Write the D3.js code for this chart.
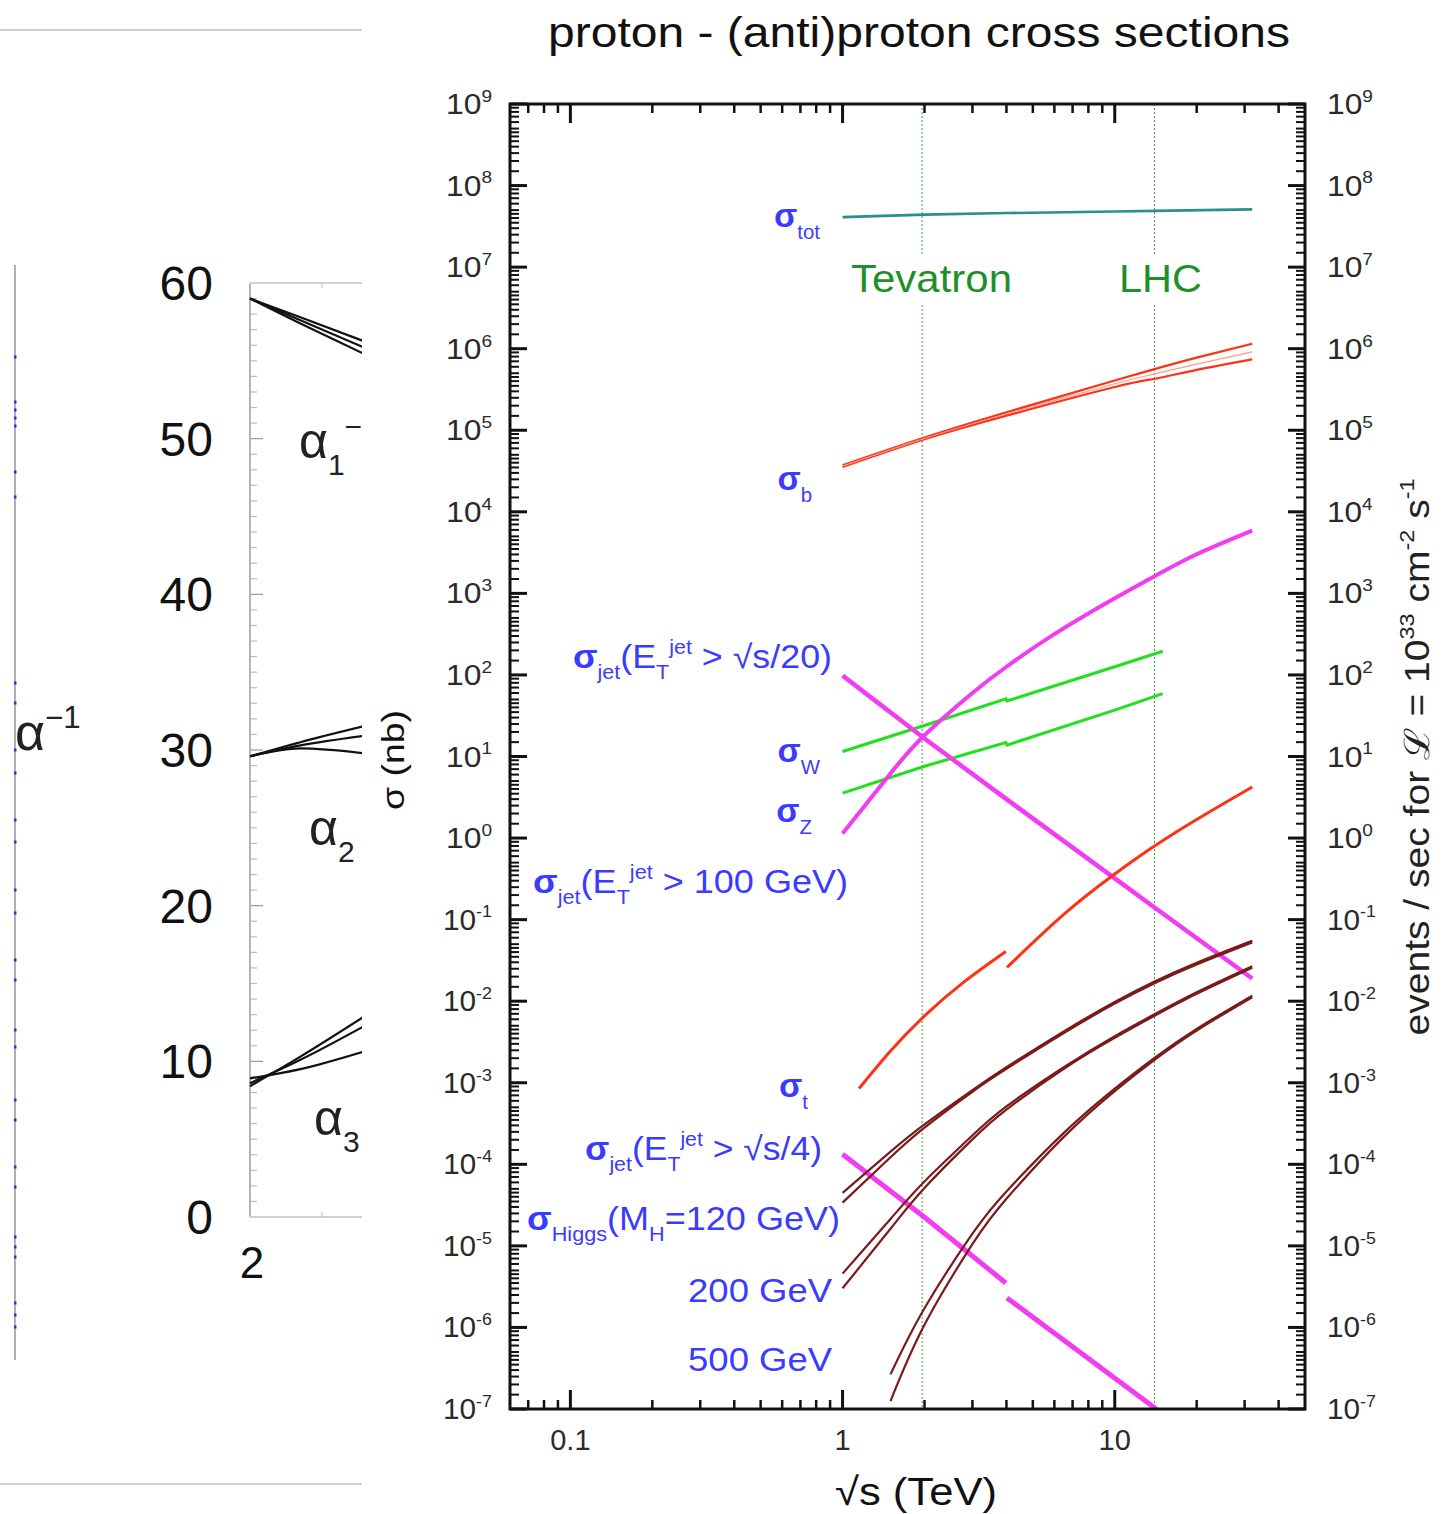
<!DOCTYPE html>
<html>
<head>
<meta charset="utf-8">
<script src="https://cdn.jsdelivr.net/npm/d3@7"></script>
<style>
  body { margin: 0; background: #fff; }
  text { font-family: "Liberation Sans", Arial, sans-serif; white-space: pre; }
</style>
</head>
<body>
<svg id="fig" width="1453" height="1514"></svg>
<script>
// ---------- data: main panel (sqrt(s) in TeV, sigma in nb) ----------
const sigmaExponents = d3.range(-7, 10);
const minorMantissa = [1.5, 2, 2.5, 3, 3.5, 4, 4.5, 5, 6, 7, 8, 9];
const xMajorTicks = [0.1, 1, 10];
const xMinorTicks = [0.07, 0.08, 0.09, 0.2, 0.3, 0.4, 0.5, 0.6, 0.7, 0.8, 0.9,
                     2, 3, 4, 5, 6, 7, 8, 9, 20, 30, 40];
const colliderNames = ["Tevatron", "LHC"];
const colliderEnergies = [1.96, 14];

const sTot = [1, 2, 4, 10, 14, 32];
const totVals = [4.1e7, 4.4e7, 4.6e7, 4.8e7, 4.9e7, 5.1e7];

const sB = [1, 2, 4, 10, 14, 20, 32];
const bHi = [3.72e4, 8.13e4, 1.66e5, 4.07e5, 5.62e5, 7.76e5, 1.15e6];
const bMid = [3.63e4, 7.94e4, 1.58e5, 3.72e5, 4.9e5, 6.46e5, 9.12e5];
const bLo = [3.55e4, 7.76e4, 1.51e5, 3.39e5, 4.27e5, 5.5e5, 7.41e5];

const sJet100 = [1, 1.5, 2, 3, 4, 6, 10, 14, 20, 32];
const jet100 = [1.14, 6.2, 18.2, 60, 126, 316, 870, 1620, 3020, 5890];

const sJet20 = [1, 2, 4, 10, 14, 32];
const jet20 = [98, 16.6, 3.0, 0.32, 0.141, 0.019];

const sJet4a = [1, 2, 3.98];
const jet4a = [1.33e-4, 2.24e-5, 3.5e-6];
const sJet4b = [4.02, 14.2];
const jet4b = [2.3e-6, 1.0e-7];

const sWZ = [1, 2, 3.98, 4.02, 10, 15];
const wVals = [11.5, 24, 51, 48, 126, 195];
const zVals = [3.55, 7.6, 14.8, 13.8, 37, 59];

const sTopA = [1.15, 1.5, 2, 2.78, 3.98];
const topA = [8.5e-4, 2.45e-3, 6.6e-3, 1.7e-2, 4.07e-2];
const sTopB = [4.02, 6.5, 10, 14, 20, 32];
const topB = [0.026, 0.116, 0.362, 0.798, 1.69, 4.23];

const sHiggs = [1, 1.5, 2, 3, 4, 6.5, 10, 14, 20, 32];
const h120Hi = [4.47e-5, 1.43e-4, 3.09e-4, 8.13e-4, 1.55e-3, 4.27e-3, 9.77e-3, 1.74e-2, 2.95e-2, 5.5e-2];
const h120Lo = [3.39e-5, 1.22e-4, 2.82e-4, 7.76e-4, 1.48e-3, 4.07e-3, 9.33e-3, 1.66e-2, 2.82e-2, 5.25e-2];
const h200Hi = [4.57e-6, 2.14e-5, 6.17e-5, 2.26e-4, 5.13e-4, 1.55e-3, 3.72e-3, 6.92e-3, 1.29e-2, 2.69e-2];
const h200Lo = [3.02e-6, 1.62e-5, 5.13e-5, 2.02e-4, 4.68e-4, 1.48e-3, 3.55e-3, 6.61e-3, 1.23e-2, 2.57e-2];
const sHiggs500 = [1.5, 2, 3, 4, 6.5, 10, 14, 20, 32];
const h500Hi = [2.66e-7, 1.72e-6, 1.41e-5, 4.65e-5, 2.43e-4, 8.47e-4, 2.02e-3, 4.57e-3, 1.17e-2];
const h500Lo = [1.25e-7, 1.08e-6, 1.05e-5, 3.78e-5, 2.17e-4, 7.91e-4, 1.91e-3, 4.37e-3, 1.12e-2];

// ---------- data: cropped alpha^-1 panel on the left ----------
const alphaX = [2, 2.35, 2.78];
const alpha1Lines = [[59.0, 57.8, 56.3], [59.0, 57.6, 55.9], [59.0, 57.4, 55.5]];
const alpha2Lines = [[29.6, 30.5, 31.5], [29.6, 30.3, 30.9], [29.6, 30.1, 29.8]];
const alpha3Lines = [[8.4, 10.3, 12.8], [8.6, 10.1, 12.2], [8.9, 9.5, 10.6]];
const alphaTickLabels = [0, 10, 20, 30, 40, 50, 60];
const blueMarks = [357, 402, 410, 418, 426, 472, 497, 683, 703, 750, 773, 820, 842, 890, 913,
                   960, 980, 1030, 1047, 1100, 1120, 1167, 1187, 1237, 1247, 1257, 1303, 1315, 1327];

const svg = d3.select('#fig');

const BLUE = '#3b3bff';
const RED = '#ff3114';
const MAGENTA = '#f23cf2';
const GREEN = '#20e020';
const BROWN = '#7b1a1a';
const TEAL = '#2a8f8f';

// text with sub/superscripts: parts are strings or [text, 'sub'|'sup'|null, bold]
// opts.width stretches the text horizontally to that width, opts.rotate turns it
function richText(g, x, y, parts, size, color, anchor, opts) {
    opts = opts || {};
    const holder = g.append('g');
    const t = holder.append('text')
        .attr('x', 0).attr('y', 0)
        .attr('fill', color)
        .attr('font-size', size)
        .attr('text-anchor', anchor || 'end');
    let off = 0;
    parts.forEach(p => {
        const str = typeof p === 'string' ? p : p[0];
        const kind = typeof p === 'string' ? null : p[1];
        const bold = typeof p === 'string' ? false : p[2];
        const target = kind === 'sub' ? size * 0.34 : kind === 'sup' ? -size * 0.42 : 0;
        const ts = t.append('tspan').attr('dy', target - off).text(str);
        if (kind) ts.attr('font-size', size * 0.6);
        if (bold) ts.attr('font-weight', 'bold');
        off = target;
    });
    let sx = 1;
    if (opts.width) sx = opts.width / t.node().getBBox().width;
    holder.attr('transform',
        `translate(${x},${y})` + (opts.rotate ? ` rotate(${opts.rotate})` : '') + ` scale(${sx},1)`);
    return holder;
}

// ================= left cropped panel =================
const left = svg.append('g');
svg.append('clipPath').attr('id', 'leftClip')
    .append('rect').attr('x', 0).attr('y', 0).attr('width', 362).attr('height', 1514);
left.attr('clip-path', 'url(#leftClip)');

left.append('line').attr('x1', 0).attr('x2', 362).attr('y1', 30).attr('y2', 30)
    .attr('stroke', '#cfcfcf').attr('stroke-width', 2);
left.append('line').attr('x1', 0).attr('x2', 362).attr('y1', 1484).attr('y2', 1484)
    .attr('stroke', '#cfcfcf').attr('stroke-width', 2);
left.append('line').attr('x1', 15).attr('x2', 15).attr('y1', 265).attr('y2', 1360)
    .attr('stroke', '#b0b0b0').attr('stroke-width', 2);
blueMarks.forEach(m => {
    left.append('rect').attr('x', 14).attr('y', m - 1.5).attr('width', 2.5).attr('height', 3)
        .attr('fill', '#2233dd');
});

const ax = d3.scaleLinear().domain([2, 2.78]).range([250, 362.3]);
const ay = d3.scaleLinear().domain([0, 60]).range([1217, 283]);

d3.range(0, 61).forEach(v => {
    const major = v % 10 === 0;
    left.append('line')
        .attr('x1', 250).attr('x2', 250 + (major ? 13 : 7))
        .attr('y1', ay(v)).attr('y2', ay(v))
        .attr('stroke', major ? '#999' : '#bbb').attr('stroke-width', 1.2);
});
left.append('line').attr('x1', 250).attr('x2', 250).attr('y1', 283).attr('y2', 1217)
    .attr('stroke', '#b5b5b5').attr('stroke-width', 2);
left.append('line').attr('x1', 250).attr('x2', 362).attr('y1', 283).attr('y2', 283)
    .attr('stroke', '#d0d0d0').attr('stroke-width', 2);
left.append('line').attr('x1', 250).attr('x2', 362).attr('y1', 1217).attr('y2', 1217)
    .attr('stroke', '#d0d0d0').attr('stroke-width', 2);
[ax(2.5)].forEach(xv => {
    left.append('line').attr('x1', xv).attr('x2', xv).attr('y1', 283).attr('y2', 288)
        .attr('stroke', '#bbb');
    left.append('line').attr('x1', xv).attr('x2', xv).attr('y1', 1212).attr('y2', 1217)
        .attr('stroke', '#bbb');
});

alphaTickLabels.forEach(v => {
    left.append('text').attr('x', 213).attr('y', ay(v) + 17)
        .attr('text-anchor', 'end').attr('font-size', 48).attr('fill', '#111')
        .text(v);
});
left.append('text').attr('x', 252).attr('y', 1278).attr('text-anchor', 'middle')
    .attr('font-size', 44).attr('fill', '#111').text('2');

const alphaLine = d3.line().x((d, i) => ax(alphaX[i])).y(d => ay(d)).curve(d3.curveMonotoneX);
[alpha1Lines, alpha2Lines, alpha3Lines].forEach(group => {
    group.forEach(vals => {
        left.append('path').attr('d', alphaLine(vals))
            .attr('fill', 'none').attr('stroke', '#111').attr('stroke-width', 2.2);
    });
});

const serif = '"Liberation Serif", "Times New Roman", serif';
richText(left, 15, 750, ['\u03b1', ['\u22121', 'sup']], 52, '#222', 'start')
    .attr('font-family', serif);
richText(left, 299, 458, ['\u03b1', ['1', 'sub'], ['\u22121', 'sup']], 50, '#222', 'start')
    .attr('font-family', serif);
richText(left, 309, 845, ['\u03b1', ['2', 'sub']], 50, '#222', 'start')
    .attr('font-family', serif);
richText(left, 314, 1135, ['\u03b1', ['3', 'sub']], 50, '#222', 'start')
    .attr('font-family', serif);

// ================= main panel =================
const x0 = 510, x1 = 1305, yTop = 104, yBot = 1409;
const x = d3.scaleLog().domain([0.06, 50]).range([x0, x1]);
const y = d3.scaleLog().domain([1e-7, 1e9]).range([yBot, yTop]);

const main = svg.append('g');

svg.append('clipPath').attr('id', 'plotClip')
    .append('rect').attr('x', x0).attr('y', yTop).attr('width', x1 - x0).attr('height', yBot - yTop);

// collider lines (broken around the labels)
colliderEnergies.forEach(e => {
    [[yTop, 256], [305, yBot]].forEach(seg => {
        main.append('line')
            .attr('x1', x(e)).attr('x2', x(e))
            .attr('y1', seg[0]).attr('y2', seg[1])
            .attr('stroke', '#3c9a3c').attr('stroke-width', 1)
            .attr('stroke-dasharray', '2,2');
    });
});
main.append('text').attr('x', 851).attr('y', 292).attr('font-size', 39)
    .attr('fill', '#1f8f2a').attr('textLength', 161).attr('lengthAdjust', 'spacingAndGlyphs')
    .text(colliderNames[0]);
main.append('text').attr('x', 1119).attr('y', 292).attr('font-size', 39)
    .attr('fill', '#1f8f2a').attr('textLength', 83).attr('lengthAdjust', 'spacingAndGlyphs')
    .text(colliderNames[1]);

// curves
const curves = main.append('g').attr('clip-path', 'url(#plotClip)');
const smooth = d3.line().x(d => x(d[0])).y(d => y(d[1])).curve(d3.curveNatural);
const straight = d3.line().x(d => x(d[0])).y(d => y(d[1]));
function drawCurve(sArr, vals, color, width, gen) {
    curves.append('path')
        .attr('d', (gen || smooth)(sArr.map((s, i) => [s, vals[i]])))
        .attr('fill', 'none')
        .attr('stroke', color)
        .attr('stroke-width', width);
}

drawCurve(sTot, totVals, TEAL, 2.6, straight);

drawCurve(sB, bHi, RED, 2.2);
drawCurve(sB, bLo, RED, 2.2);
drawCurve(sB, bMid, '#ff9a8a', 1.2);

drawCurve(sWZ, wVals, GREEN, 3, straight);
drawCurve(sWZ, zVals, GREEN, 3, straight);

drawCurve(sJet100, jet100, MAGENTA, 4);
drawCurve(sJet20, jet20, MAGENTA, 4.5, straight);
drawCurve(sJet4a, jet4a, MAGENTA, 5, straight);
drawCurve(sJet4b, jet4b, MAGENTA, 5, straight);

drawCurve(sTopA, topA, RED, 3);
drawCurve(sTopB, topB, RED, 3);

drawCurve(sHiggs, h120Hi, BROWN, 2.2);
drawCurve(sHiggs, h120Lo, BROWN, 2.2);
drawCurve(sHiggs, h200Hi, BROWN, 2.2);
drawCurve(sHiggs, h200Lo, BROWN, 2.2);
drawCurve(sHiggs500, h500Hi, BROWN, 2.2);
drawCurve(sHiggs500, h500Lo, BROWN, 2.2);

// frame
main.append('rect').attr('x', x0).attr('y', yTop)
    .attr('width', x1 - x0).attr('height', yBot - yTop)
    .attr('fill', 'none').attr('stroke', '#111').attr('stroke-width', 3);

// y ticks (both sides, inward)
sigmaExponents.forEach(e => {
    const yy = y(Math.pow(10, e));
    main.append('line').attr('x1', x0).attr('x2', x0 + 17).attr('y1', yy).attr('y2', yy)
        .attr('stroke', '#111').attr('stroke-width', 3);
    main.append('line').attr('x1', x1 - 17).attr('x2', x1).attr('y1', yy).attr('y2', yy)
        .attr('stroke', '#111').attr('stroke-width', 3);
    if (e < 9) {
        minorMantissa.forEach(m => {
            const ym = y(m * Math.pow(10, e));
            main.append('line').attr('x1', x0).attr('x2', x0 + 9).attr('y1', ym).attr('y2', ym)
                .attr('stroke', '#111').attr('stroke-width', 2);
            main.append('line').attr('x1', x1 - 9).attr('x2', x1).attr('y1', ym).attr('y2', ym)
                .attr('stroke', '#111').attr('stroke-width', 2);
        });
    }
    const w = e < 0 ? 49 : 46;
    richText(main, 492, yy + 10, ['10', [String(e), 'sup']], 29, '#2a2a2a', 'end', { width: w });
    richText(main, 1327, yy + 10, ['10', [String(e), 'sup']], 29, '#2a2a2a', 'start', { width: w });
});

// x ticks (top and bottom, inward)
xMajorTicks.forEach(t => {
    const xx = x(t);
    main.append('line').attr('x1', xx).attr('x2', xx).attr('y1', yTop).attr('y2', yTop + 19)
        .attr('stroke', '#111').attr('stroke-width', 3);
    main.append('line').attr('x1', xx).attr('x2', xx).attr('y1', yBot - 19).attr('y2', yBot)
        .attr('stroke', '#111').attr('stroke-width', 3);
    main.append('text').attr('x', xx).attr('y', 1450).attr('text-anchor', 'middle')
        .attr('font-size', 29).attr('fill', '#2a2a2a').text(t);
});
xMinorTicks.forEach(t => {
    const xx = x(t);
    main.append('line').attr('x1', xx).attr('x2', xx).attr('y1', yTop).attr('y2', yTop + 9)
        .attr('stroke', '#111').attr('stroke-width', 2.5);
    main.append('line').attr('x1', xx).attr('x2', xx).attr('y1', yBot - 9).attr('y2', yBot)
        .attr('stroke', '#111').attr('stroke-width', 2.5);
});

// titles
main.append('text').attr('x', 919).attr('y', 47).attr('text-anchor', 'middle')
    .attr('font-size', 43).attr('fill', '#111')
    .attr('textLength', 742).attr('lengthAdjust', 'spacingAndGlyphs')
    .text('proton - (anti)proton cross sections');
main.append('text').attr('x', 916).attr('y', 1505).attr('text-anchor', 'middle')
    .attr('font-size', 39).attr('fill', '#111')
    .attr('textLength', 162).attr('lengthAdjust', 'spacingAndGlyphs')
    .text('\u221as (TeV)');
main.append('text').attr('transform', 'translate(404,760) rotate(-90)')
    .attr('text-anchor', 'middle').attr('font-size', 32).attr('fill', '#111')
    .attr('textLength', 100).attr('lengthAdjust', 'spacingAndGlyphs')
    .text('\u03c3 (nb)');
richText(main, 1429, 757,
    ['events / sec for ', ['\u2112', null], ' = 10', ['33', 'sup'], ' cm', ['-2', 'sup'], ' s', ['-1', 'sup']],
    35, '#222', 'middle', { rotate: -90, width: 557 });

// curve labels
const labels = main.append('g');
richText(labels, 820, 227, [['\u03c3', null, true], ['tot', 'sub']], 34, BLUE);
richText(labels, 812, 490, [['\u03c3', null, true], ['b', 'sub']], 34, BLUE);
richText(labels, 832, 668, [['\u03c3', null, true], ['jet', 'sub'], '(E', ['T', 'sub'], ['jet', 'sup'], ' > \u221as/20)'],
    33, BLUE, 'end', { width: 259 });
richText(labels, 820, 762, [['\u03c3', null, true], ['W', 'sub']], 34, BLUE);
richText(labels, 812, 822, [['\u03c3', null, true], ['Z', 'sub']], 34, BLUE);
richText(labels, 848, 893, [['\u03c3', null, true], ['jet', 'sub'], '(E', ['T', 'sub'], ['jet', 'sup'], ' > 100 GeV)'],
    33, BLUE, 'end', { width: 315 });
richText(labels, 808, 1097, [['\u03c3', null, true], ['t', 'sub']], 34, BLUE);
richText(labels, 822, 1160, [['\u03c3', null, true], ['jet', 'sub'], '(E', ['T', 'sub'], ['jet', 'sup'], ' > \u221as/4)'],
    33, BLUE, 'end', { width: 237 });
richText(labels, 840, 1230, [['\u03c3', null, true], ['Higgs', 'sub'], '(M', ['H', 'sub'], '=120 GeV)'],
    33, BLUE, 'end', { width: 313 });
richText(labels, 832, 1302, ['200 GeV'], 33, BLUE, 'end', { width: 144 });
richText(labels, 832, 1371, ['500 GeV'], 33, BLUE, 'end', { width: 144 });
</script>
</body>
</html>
